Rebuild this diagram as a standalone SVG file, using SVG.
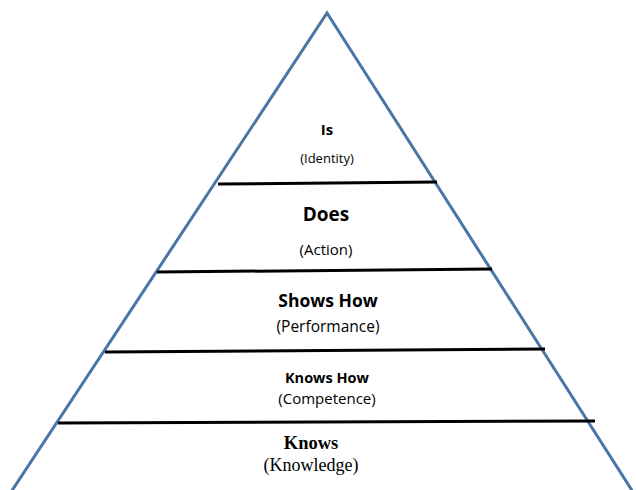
<svg xmlns="http://www.w3.org/2000/svg" width="636" height="490" viewBox="0 0 636 490">
<style>
.tri{fill:none;stroke:#4a76a6;stroke-width:3;stroke-linejoin:miter}
.sep{stroke:#000;stroke-width:3;stroke-linecap:butt}
.b{font-family:"Open Sans","Liberation Sans",sans-serif;font-weight:bold;text-anchor:middle;fill:#000}
.r{font-family:"Open Sans","Liberation Sans",sans-serif;text-anchor:middle;fill:#000}
.sb{font-family:"Liberation Serif",serif;font-weight:bold;text-anchor:middle;fill:#000}
.sr{font-family:"Liberation Serif",serif;text-anchor:middle;fill:#000}
</style>
<rect width="636" height="490" fill="#fff"/>
<g id="connectors">
<polyline class="tri" points="11,492 327,13 633,492"/>
<line class="sep" x1="218" y1="184" x2="437" y2="182"/>
<line class="sep" x1="157" y1="272" x2="492" y2="269"/>
<line class="sep" x1="105" y1="352" x2="545" y2="349"/>
<line class="sep" x1="58" y1="423" x2="595" y2="421"/>
</g>
<g id="is">
<text class="b" x="327" y="134.5" font-size="15">Is</text>
<text class="r" x="327" y="163" font-size="13">(Identity)</text>
</g>
<g id="does">
<text class="b" x="326" y="220.5" font-size="19">Does</text>
<text class="r" x="326" y="255" font-size="15">(Action)</text>
</g>
<g id="shows-how">
<text class="b" x="328" y="307" font-size="17.5">Shows How</text>
<text class="r" x="328" y="332" font-size="15.5">(Performance)</text>
</g>
<g id="knows-how">
<text class="b" x="327" y="382.5" font-size="14.5">Knows How</text>
<text class="r" x="327" y="404" font-size="15">(Competence)</text>
</g>
<g id="knows">
<text class="sb" x="311" y="449" font-size="18.5">Knows</text>
<text class="sr" x="311" y="471" font-size="18">(Knowledge)</text>
</g>
</svg>
